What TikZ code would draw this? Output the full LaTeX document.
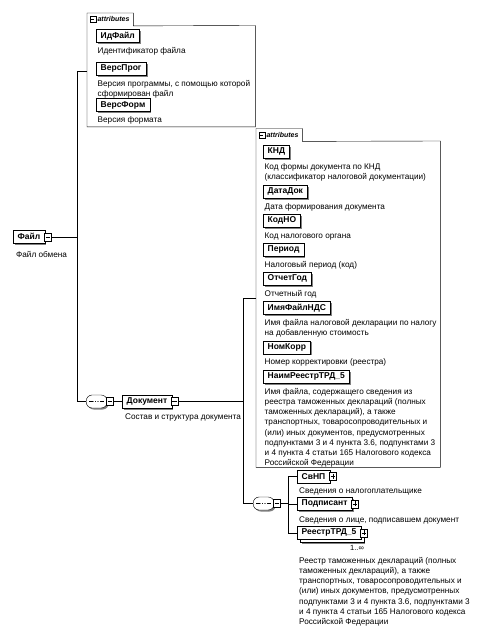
\documentclass[tikz,border=0pt]{standalone}
\usepackage{fontspec}
\setmainfont{Liberation Sans}
\usetikzlibrary{shadows,positioning}

\tikzset{
  elembase/.style={draw, fill=white, font=\fontsize{8.5}{10}\selectfont\bfseries,
    inner xsep=4.5pt, inner ysep=0pt, minimum height=13pt, anchor=north west},
  elem/.style={elembase,
    drop shadow={shadow xshift=1.5pt, shadow yshift=-1.5pt, fill=black!50, opacity=1}},
  repelem/.style={elembase,
    general shadow={shadow xshift=4.5pt, shadow yshift=-4.5pt, fill=black!50},
    general shadow={shadow xshift=3pt, shadow yshift=-3pt, draw=black, fill=white}},
  desc/.style={anchor=north west, inner sep=0pt, align=left, font=\fontsize{8.2}{10.2}\selectfont},
  pmbox/.style={draw, fill=white, minimum width=7pt, minimum height=8pt, inner sep=0pt, anchor=west},
  minusbx/.style={pmbox, path picture={
    \draw ([xshift=1.3pt]path picture bounding box.west) -- ([xshift=-1.3pt]path picture bounding box.east);}},
  plusbx/.style={pmbox, path picture={
    \draw ([xshift=1.3pt]path picture bounding box.west) -- ([xshift=-1.3pt]path picture bounding box.east);
    \draw ([yshift=-1.3pt]path picture bounding box.north) -- ([yshift=1.3pt]path picture bounding box.south);}},
  seqsym/.style={draw, fill=white, rounded corners=6pt, minimum width=21pt, minimum height=13pt,
    inner sep=0pt, anchor=west,
    drop shadow={shadow xshift=1.5pt, shadow yshift=-1.5pt, fill=black!50, opacity=1},
    path picture={
      \draw ([xshift=3pt]path picture bounding box.west) -- ([xshift=-3pt]path picture bounding box.east);
      \foreach \dx in {-2.5,0,2.5}
        \fill ([xshift=\dx pt]path picture bounding box.center) circle (0.9pt);}},
  tabbox/.style={anchor=north west, minimum width=46pt, minimum height=12.5pt, inner sep=0pt},
  tabtext/.style={anchor=west, inner sep=0pt, font=\fontsize{7}{8}\selectfont\bfseries\itshape},
  attrbox/.style={anchor=north west, inner sep=0pt}
}

\begin{document}
\begin{tikzpicture}[x=1pt, y=-1pt]
\useasboundingbox (0,0) rectangle (491,636);

% root element
\node[elem] (fayl) at (13,230) {Файл};
\node[minusbx] (faylmin) at ([xshift=-1pt]fayl.east) {};
\node[desc] (fayldesc) at ([xshift=3pt,yshift=-6.5pt]fayl.south west) {\strut Файл обмена};

% attributes of Файл
\node[tabbox] (tab1) at (87,13) {};
\node[attrbox, minimum width=168pt, minimum height=101pt] (attrs1) at (87,25.5) {};
\draw (tab1.south west) -- (tab1.north west) -- (tab1.north east) -- (tab1.south east)
    -- (attrs1.north east) -- (attrs1.south east) -- (attrs1.south west) -- cycle;
\node[minusbx, minimum width=6pt, minimum height=6pt] (tab1min) at ([xshift=2.5pt]tab1.west) {};
\node[tabtext] (tab1txt) at ([xshift=1.5pt]tab1min.east) {attributes};

\node[elem] (idfayl) at (96,29) {ИдФайл};
\node[desc] (idfayldesc) at ([xshift=1.5pt,yshift=-3.5pt]idfayl.south west) {\strut Идентификатор файла};
\node[elem] (versprog) at (96,62) {ВерсПрог};
\node[desc] (versprogdesc) at ([xshift=1.5pt,yshift=-3.5pt]versprog.south west)
    {\strut Версия программы, с помощью которой\\сформирован файл};
\node[elem] (versform) at (96,98.5) {ВерсФорм};
\node[desc] (versformdesc) at ([xshift=1.5pt,yshift=-3.5pt]versform.south west) {\strut Версия формата};

% Документ
\node[seqsym] (seq1) at (86,401.5) {};
\node[minusbx] (seq1min) at ([xshift=-1pt]seq1.east) {};
\node[elem, anchor=west] (doc) at (122,401.5) {Документ};
\node[minusbx] (docmin) at ([xshift=-1pt]doc.east) {};
\node[desc] (docdesc) at ([xshift=3pt,yshift=-3.5pt]doc.south west) {\strut Состав и структура документа};

% attributes of Документ
\node[tabbox] (tab2) at (256,128.5) {};
\node[attrbox, minimum width=184pt, minimum height=326pt] (attrs2) at (256,141) {};
\draw (tab2.south west) -- (tab2.north west) -- (tab2.north east) -- (tab2.south east)
    -- (attrs2.north east) -- (attrs2.south east) -- (attrs2.south west) -- cycle;
\node[minusbx, minimum width=6pt, minimum height=6pt] (tab2min) at ([xshift=2.5pt]tab2.west) {};
\node[tabtext] (tab2txt) at ([xshift=1.5pt]tab2min.east) {attributes};

\node[elem] (knd) at (263,145) {КНД};
\node[desc] (knddesc) at ([xshift=1.5pt,yshift=-3.5pt]knd.south west)
    {\strut Код формы документа по КНД\\(классификатор налоговой документации)};
\node[elem] (datadok) at (263,185) {ДатаДок};
\node[desc] (datadokdesc) at ([xshift=1.5pt,yshift=-3.5pt]datadok.south west) {\strut Дата формирования документа};
\node[elem] (kodno) at (263,214) {КодНО};
\node[desc] (kodnodesc) at ([xshift=1.5pt,yshift=-3.5pt]kodno.south west) {\strut Код налогового органа};
\node[elem] (period) at (263,243) {Период};
\node[desc] (perioddesc) at ([xshift=1.5pt,yshift=-3.5pt]period.south west) {\strut Налоговый период (код)};
\node[elem] (otchgod) at (263,272) {ОтчетГод};
\node[desc] (otchgoddesc) at ([xshift=1.5pt,yshift=-3.5pt]otchgod.south west) {\strut Отчетный год};
\node[elem] (imyafayl) at (263,301) {ИмяФайлНДС};
\node[desc] (imyafayldesc) at ([xshift=1.5pt,yshift=-3.5pt]imyafayl.south west)
    {\strut Имя файла налоговой декларации по налогу\\на добавленную стоимость};
\node[elem] (nomkorr) at (263,340.5) {НомКорр};
\node[desc] (nomkorrdesc) at ([xshift=1.5pt,yshift=-3.5pt]nomkorr.south west) {\strut Номер корректировки (реестра)};
\node[elem] (naimreestr) at (263,370) {НаимРеестрТРД\_5};
\node[desc] (naimreestrdesc) at ([xshift=1.5pt,yshift=-3.5pt]naimreestr.south west)
    {\strut Имя файла, содержащего сведения из\\реестра таможенных деклараций (полных\\таможенных деклараций), а также\\транспортных, товаросопроводительных и\\(или) иных документов, предусмотренных\\подпунктами 3 и 4 пункта 3.6, подпунктами 3\\и 4 пункта 4 статьи 165 Налогового кодекса\\Российской Федерации};

% children of Документ
\node[seqsym] (seq2) at (253,503.5) {};
\node[minusbx] (seq2min) at ([xshift=-1pt]seq2.east) {};
\node[elem] (svnp) at (297,469.5) {СвНП};
\node[plusbx] (svnpplus) at ([xshift=-1pt]svnp.east) {};
\node[desc] (svnpdesc) at ([xshift=2pt,yshift=-3.5pt]svnp.south west) {\strut Сведения о налогоплательщике};
\node[elem] (podp) at (297,497) {Подписант};
\node[plusbx] (podpplus) at ([xshift=-1pt]podp.east) {};
\node[desc] (podpdesc) at ([xshift=2pt,yshift=-4.5pt]podp.south west) {\strut Сведения о лице, подписавшем документ};
\node[repelem] (reestr) at (297,526) {РеестрТРД\_5};
\node[plusbx] (reestrplus) at ([xshift=-1pt]reestr.east) {};
\node[anchor=base east, inner sep=0pt, font=\fontsize{7.5}{8}\selectfont] (reestrcard)
    at ([xshift=3pt,yshift=-11pt]reestr.south east) {1..∞};
\node[desc] (reestrdesc) at ([xshift=2pt,yshift=-16.5pt]reestr.south west)
    {\strut Реестр таможенных деклараций (полных\\таможенных деклараций), а также\\транспортных, товаросопроводительных и\\(или) иных документов, предусмотренных\\подпунктами 3 и 4 пункта 3.6, подпунктами 3\\и 4 пункта 4 статьи 165 Налогового кодекса\\Российской Федерации};

% connectors
\coordinate (t1) at (77,71);
\coordinate (t2) at (243,298);
\coordinate (t3) at (288,476);
\draw (faylmin.east) -- (t1 |- faylmin.east);
\draw (attrs1.west |- t1) -- (t1) -- (t1 |- seq1.west) -- (seq1.west);
\draw (seq1min.east) -- (doc.west);
\draw (docmin.east) -- (t2 |- docmin.east);
\draw (attrs2.west |- t2) -- (t2) -- (t2 |- seq2.west) -- (seq2.west);
\draw (seq2min.east) -- (t3 |- seq2min.east);
\draw (svnp.west) -- (t3 |- svnp.west) -- (t3 |- reestr.west) -- (reestr.west);
\draw (t3 |- podp.west) -- (podp.west);
\end{tikzpicture}
\end{document}
